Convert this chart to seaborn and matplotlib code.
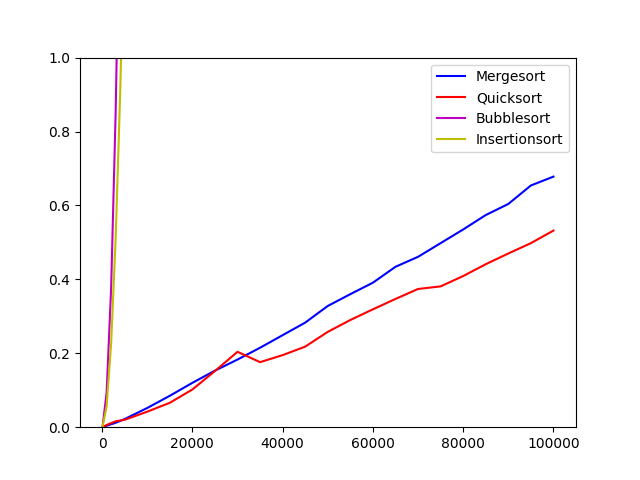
import matplotlib
matplotlib.use("Agg")
import matplotlib.pyplot as plt
import seaborn as sns

# problem sizes
sizes = [100, 1000, 3000, 5000, 10000, 15000, 20000, 25000, 30000, 35000, 40000,
         45000, 50000, 55000, 60000, 65000, 70000, 75000, 80000, 85000, 90000,
         95000, 100000]
small_sizes = [100, 1000, 2000, 3000, 4000, 5000]

# running times (s)
mergesort = [0.0005, 0.004, 0.012, 0.022, 0.052, 0.085, 0.12, 0.153, 0.183, 0.215,
             0.249, 0.283, 0.328, 0.36, 0.391, 0.434, 0.461, 0.498, 0.535, 0.574,
             0.604, 0.654, 0.678]
quicksort = [0.0, 0.006, 0.016, 0.02, 0.042, 0.066, 0.102, 0.152, 0.204, 0.176,
             0.195, 0.218, 0.258, 0.29, 0.319, 0.347, 0.374, 0.381, 0.409, 0.441,
             0.47, 0.498, 0.532]
bubblesort = [0.001, 0.094, 0.376, 0.85, 1.5, 2.35]
insertionsort = [0.001, 0.056, 0.226, 0.51, 0.90, 1.41]

fig, ax = plt.subplots(figsize=(6.4, 4.8), dpi=100)
sns.lineplot(x=sizes, y=mergesort, color="b", label="Mergesort", ax=ax)
sns.lineplot(x=sizes, y=quicksort, color="r", label="Quicksort", ax=ax)
sns.lineplot(x=small_sizes, y=bubblesort, color="m", label="Bubblesort", ax=ax)
sns.lineplot(x=small_sizes, y=insertionsort, color="y", label="Insertionsort", ax=ax)

ax.set_ylim(0, 1)
ax.legend(loc="upper right")

plt.savefig("out.png")
